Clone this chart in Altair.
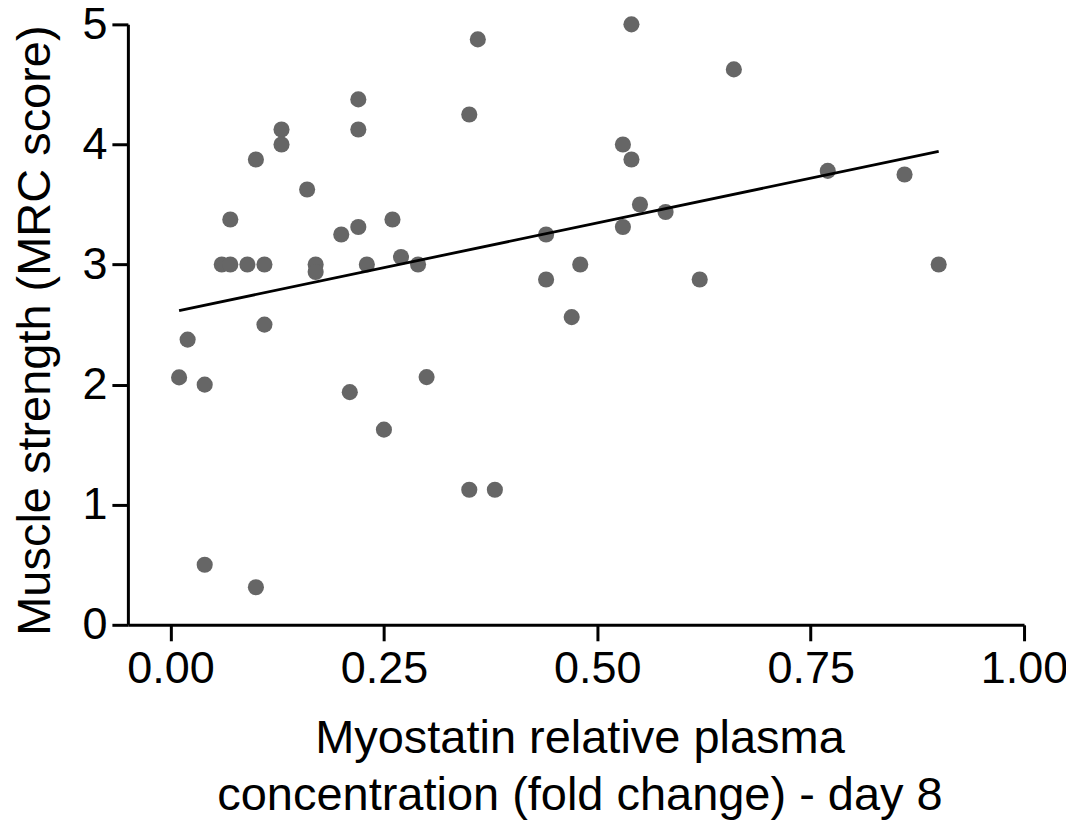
import altair as alt
import pandas as pd

# Myostatin relative plasma concentration (fold change) - day 8
myostatin = [
    0.01, 0.02, 0.04, 0.04, 0.06, 0.07, 0.07, 0.09, 0.10, 0.10,
    0.11, 0.11, 0.13, 0.13, 0.16, 0.17, 0.17, 0.20, 0.21, 0.22,
    0.22, 0.22, 0.23, 0.25, 0.26, 0.27, 0.29, 0.30, 0.35, 0.35,
    0.36, 0.38, 0.44, 0.44, 0.47, 0.48, 0.53, 0.53, 0.54, 0.54,
    0.55, 0.58, 0.62, 0.66, 0.77, 0.86, 0.90,
]
# Muscle strength (MRC score)
mrc = [
    2.06, 2.375, 2.0, 0.5, 3.0, 3.0, 3.375, 3.0, 3.875, 0.3125,
    3.0, 2.5, 4.125, 4.0, 3.625, 3.0, 2.9375, 3.25, 1.9375, 4.375,
    4.125, 3.3125, 3.0, 1.625, 3.375, 3.0625, 3.0, 2.0625, 4.25, 1.125,
    4.875, 1.125, 3.25, 2.875, 2.5625, 3.0, 4.0, 3.3125, 5.0, 3.875,
    3.5, 3.4375, 2.875, 4.625, 3.78, 3.75, 3.0,
]

x_ticks = [0.0, 0.25, 0.5, 0.75, 1.0]
y_ticks = [0, 1, 2, 3, 4, 5]

df = pd.DataFrame({"x": myostatin, "y": mrc})

FONT = "Liberation Sans"

x_enc = alt.X(
    "x:Q",
    scale=alt.Scale(domain=[-0.05, 1.0], nice=False, zero=False),
    axis=alt.Axis(
        values=x_ticks,
        format=".2f",
        title=["Myostatin relative plasma", "concentration (fold change) - day 8"],
        titleFont=FONT,
        titleFontSize=47,
        titleFontWeight="normal",
        titleColor="black",
        titleLineHeight=57,
        titleX=452,
        titleY=128,
        titleAlign="center",
        titleBaseline="alphabetic",
        labelFont=FONT,
        labelFontSize=45,
        labelColor="black",
        labelPadding=6,
        labelFlush=False,
        tickSize=16,
        tickWidth=3,
        tickColor="black",
        domainColor="black",
        domainWidth=3,
        grid=False,
    ),
)
y_enc = alt.Y(
    "y:Q",
    scale=alt.Scale(domain=[0, 5], nice=False),
    axis=alt.Axis(
        values=y_ticks,
        format="d",
        title="Muscle strength (MRC score)",
        titleFont=FONT,
        titleFontSize=47,
        titleFontWeight="normal",
        titleColor="black",
        titleAngle=-90,
        titleX=-92,
        titleY=306,
        titleAlign="center",
        titleBaseline="middle",
        labelFont=FONT,
        labelFontSize=45,
        labelColor="black",
        labelPadding=5,
        labelFlush=False,
        tickSize=16,
        tickWidth=3,
        tickColor="black",
        domainColor="black",
        domainWidth=3,
        grid=False,
    ),
)

points = alt.Chart(df).mark_circle(size=260, color="#666666", opacity=1).encode(
    x=x_enc, y=y_enc
)

line = (
    alt.Chart(df)
    .transform_regression("x", "y")
    .mark_line(color="black", strokeWidth=2.8)
    .encode(x="x:Q", y="y:Q")
)

chart = (
    alt.layer(points, line)
    .properties(
        width=897,
        height=601,
        padding={"left": 120, "top": 16, "right": 42, "bottom": 198},
        autosize=alt.AutoSizeParams(type="none"),
        background="white",
    )
    .configure_view(stroke=None)
)

chart.save("out.html", embed_options={"renderer": "svg", "actions": False})
